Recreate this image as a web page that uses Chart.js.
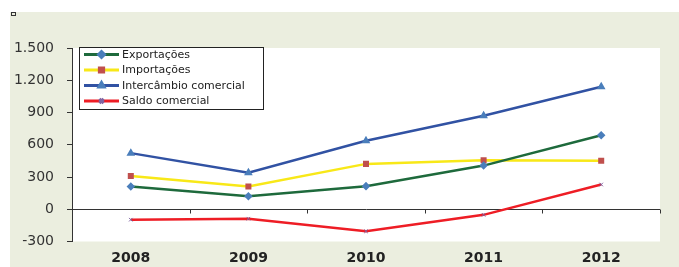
<!DOCTYPE html>
<html>
<head>
<meta charset="utf-8">
<script src="https://cdn.jsdelivr.net/npm/chart.js@4.4.1/dist/chart.umd.min.js"></script>
<style>
  body { margin: 0; background: #fff; }
  #wrap { width: 679px; height: 267px; position: relative; }
</style>
</head>
<body>
<div id="wrap"><canvas id="chart"></canvas></div>
<script>
const years = ["2008", "2009", "2010", "2011", "2012"];
const exportacoes = [211, 121, 215, 406, 689];
const importacoes = [310, 211, 422, 456, 452];
const intercambio = [522, 340, 637, 870, 1140];
const saldo = [-97, -88, -205, -52, 230];
const yTicks = [-300, 0, 300, 600, 900, 1200, 1500];

const fmt = (v) => String(v).replace(/\B(?=(\d{3})+(?!\d))/g, ".");

// green frame, white plot area, little square top-left
const frame = {
  id: "frame",
  beforeDraw(chart) {
    const c = chart.ctx, a = chart.chartArea;
    c.save();
    c.fillStyle = "#ebeedf";
    c.fillRect(10, 12, chart.width - 10, chart.height - 12);
    c.fillStyle = "#fff";
    c.fillRect(a.left, a.top, a.right - a.left, a.bottom - a.top);
    c.strokeStyle = "#333";
    c.lineWidth = 1;
    c.strokeRect(11.5, 12.5, 4, 3);
    c.restore();
  },
  afterDatasetsDraw(chart) {
    // tick marks under the zero line at category boundaries
    const c = chart.ctx, x = chart.scales.x, y = chart.scales.y;
    const y0 = Math.round(y.getPixelForValue(0)) + 0.5;
    const half = (x.getPixelForValue(1) - x.getPixelForValue(0)) / 2;
    c.save();
    c.strokeStyle = "#333";
    c.lineWidth = 1;
    c.beginPath();
    for (let i = 0; i < years.length; i++) {
      const bx = Math.round(x.getPixelForValue(i) + half) + 0.5;
      c.moveTo(bx, y0);
      c.lineTo(bx, y0 + 4);
    }
    c.stroke();
    c.restore();
  },
};

// boxed legend inside the plot
const boxLegend = {
  id: "boxLegend",
  afterDraw(chart) {
    const c = chart.ctx;
    const left = 79.5, top = 47.5, w = 184, h = 62;
    c.save();
    c.fillStyle = "#fff";
    c.fillRect(left, top, w, h);
    c.strokeStyle = "#222";
    c.lineWidth = 1;
    c.strokeRect(left, top, w, h);
    c.font = "11px 'DejaVu Sans'";
    c.textBaseline = "middle";
    chart.data.datasets.forEach((ds, i) => {
      const ry = 54.5 + i * 15.5;
      c.strokeStyle = ds.borderColor;
      c.lineWidth = 3;
      c.beginPath();
      c.moveTo(84, ry);
      c.lineTo(119, ry);
      c.stroke();
      c.fillStyle = ds.pointBackgroundColor;
      c.strokeStyle = ds.pointBorderColor;
      Chart.helpers.drawPoint(c, {
        pointStyle: ds.pointStyle,
        radius: ds.pointRadius + 0.5,
        borderWidth: 1,
        rotation: 0,
      }, 101.5, ry);
      c.fillStyle = "#222";
      c.fillText(ds.label, 122, ry + 0.5);
    });
    c.restore();
  },
};

new Chart(document.getElementById("chart"), {
  type: "line",
  data: {
    labels: years,
    datasets: [
      {
        label: "Exportações",
        data: exportacoes,
        borderColor: "#1e6a3c",
        borderWidth: 2.5,
        pointStyle: "rectRot",
        pointRadius: 2.5,
        pointBackgroundColor: "#4a7ebb",
        pointBorderColor: "#4a7ebb",
      },
      {
        label: "Importações",
        data: importacoes,
        borderColor: "#f8e818",
        borderWidth: 2.5,
        pointStyle: "rect",
        pointRadius: 2.5,
        pointBackgroundColor: "#c0504d",
        pointBorderColor: "#c0504d",
      },
      {
        label: "Intercâmbio comercial",
        data: intercambio,
        borderColor: "#3152a3",
        borderWidth: 2.5,
        pointStyle: "triangle",
        pointRadius: 2.5,
        pointBackgroundColor: "#4a7ebb",
        pointBorderColor: "#4a7ebb",
      },
      {
        label: "Saldo comercial",
        data: saldo,
        borderColor: "#ee1d25",
        borderWidth: 2.5,
        pointStyle: "crossRot",
        pointRadius: 2.5,
        pointBackgroundColor: "#8064a2",
        pointBorderColor: "#8064a2",
        pointBorderWidth: 1,
      },
    ],
  },
  options: {
    responsive: true,
    maintainAspectRatio: false,
    animation: false,
    layout: { padding: { top: 48, right: 19, left: 0, bottom: 0 } },
    plugins: {
      legend: { display: false },
      tooltip: { enabled: false },
    },
    scales: {
      x: {
        offset: true,
        grid: { display: false, drawTicks: false },
        border: { display: false },
        ticks: {
          color: "#222",
          padding: 8,
          font: { family: "'DejaVu Sans'", size: 14, weight: "bold" },
        },
        afterFit(scale) { scale.height = 25.5; },
      },
      y: {
        min: -300,
        max: 1500,
        afterBuildTicks(scale) { scale.ticks = yTicks.map((v) => ({ value: v })); },
        grid: {
          color: (ctx) => (ctx.tick && ctx.tick.value === 0 ? "#333" : "rgba(0,0,0,0)"),
          tickColor: "#333",
          tickLength: 5,
        },
        border: { display: true, color: "#333", width: 1 },
        ticks: {
          color: "#333",
          padding: 13,
          font: { family: "'DejaVu Sans'", size: 14 },
          callback: (v) => fmt(v),
        },
        afterFit(scale) { scale.width = 72; },
      },
    },
  },
  plugins: [frame, boxLegend],
});
</script>
</body>
</html>
